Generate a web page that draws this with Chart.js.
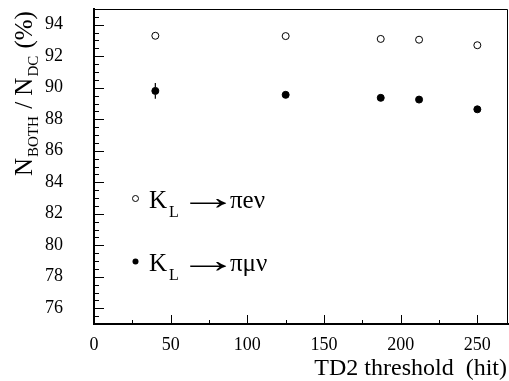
<!DOCTYPE html>
<html>
<head>
<meta charset="utf-8">
<script src="https://cdn.jsdelivr.net/npm/chart.js@4"></script>
<style>
  html, body { margin: 0; padding: 0; background: #fff; }
  #wrap { width: 509px; height: 381px; position: relative; }
</style>
</head>
<body>
<div id="wrap"><canvas id="chart"></canvas></div>
<script>
// TD2 threshold (hit)
const thresholds = [40, 125, 187, 212, 250];
// K_L -> pi e nu (open circles)
const effPiENu = [93.3, 93.28, 93.1, 93.05, 92.7];
const errPiENu = [0.2, 0.2, 0.2, 0.2, 0.2];
// K_L -> pi mu nu (filled circles)
const effPiMuNu = [89.8, 89.55, 89.36, 89.25, 88.63];
const errPiMuNu = [0.5, 0.2, 0.2, 0.2, 0.2];

const xTicks = [0, 50, 100, 150, 200, 250];
const yTicks = [76, 78, 80, 82, 84, 86, 88, 90, 92, 94];

const SERIF = '"Liberation Serif", "Times New Roman", serif';

function pontos(xs, ys, es) {
  return xs.map((x, i) => ({ x: x, y: ys[i], err: es[i] }));
}

// sem padding automatico das escalas
function zeraPadding(s) {
  s.paddingTop = 0; s.paddingBottom = 0; s.paddingLeft = 0; s.paddingRight = 0;
}

// desenha moldura, ticks internos, barras de erro, legenda e titulos
const extras = {
  id: 'extras',
  afterDraw(chart) {
    const ctx = chart.ctx;
    const a = chart.chartArea;
    const xs = chart.scales.x, ys = chart.scales.y;
    ctx.save();
    ctx.strokeStyle = '#000';

    // top and right frame
    ctx.lineWidth = 1;
    ctx.beginPath();
    ctx.moveTo(a.left, a.top + 0.5);
    ctx.lineTo(a.right - 0.5, a.top + 0.5);
    ctx.lineTo(a.right - 0.5, a.bottom);
    ctx.stroke();

    // inward ticks
    ctx.beginPath();
    for (let v = 0; v <= 270; v += 25) {
      const px = Math.round(xs.getPixelForValue(v)) + 0.5;
      const len = v % 50 === 0 ? 9 : 4;
      ctx.moveTo(px, a.bottom);
      ctx.lineTo(px, a.bottom - len);
    }
    for (let v = 75.5; v < 95; v += 0.5) {
      const py = Math.round(ys.getPixelForValue(v)) + 0.5;
      const len = v % 2 === 0 ? 10 : 5;
      ctx.moveTo(a.left, py);
      ctx.lineTo(a.left + len, py);
    }
    ctx.stroke();

    // error bars outside the markers
    const r = 3.5;
    ctx.lineWidth = 1.2;
    ctx.beginPath();
    chart.data.datasets.forEach(ds => {
      ds.data.forEach(p => {
        const px = xs.getPixelForValue(p.x);
        const py = ys.getPixelForValue(p.y);
        const hi = ys.getPixelForValue(p.y + p.err);
        const lo = ys.getPixelForValue(p.y - p.err);
        if (py - hi > r) { ctx.moveTo(px, hi); ctx.lineTo(px, py - r); }
        if (lo - py > r) { ctx.moveTo(px, py + r); ctx.lineTo(px, lo); }
      });
    });
    ctx.stroke();

    // legenda dentro do grafico
    ctx.fillStyle = '#000';
    ctx.lineWidth = 1;
    ctx.beginPath();
    ctx.arc(135.5, 198.5, 3, 0, Math.PI * 2);
    ctx.stroke();
    ctx.beginPath();
    ctx.arc(135.5, 261.5, 3, 0, Math.PI * 2);
    ctx.fill();

    function linhaLegenda(base, resto) {
      ctx.textAlign = 'left';
      ctx.textBaseline = 'alphabetic';
      ctx.font = '25px ' + SERIF;
      ctx.fillText('K', 149, base);
      ctx.font = '16px ' + SERIF;
      ctx.fillText('L', 169, base + 9);
      // seta: fonte maior, ajustada para ~37px de largura
      ctx.font = '36px ' + SERIF;
      const m = ctx.measureText('\u2192');
      const ink = m.actualBoundingBoxLeft + m.actualBoundingBoxRight;
      ctx.save();
      ctx.translate(190, base + 1);
      ctx.scale(37 / ink, 1);
      ctx.fillText('\u2192', m.actualBoundingBoxLeft, 0);
      ctx.restore();
      ctx.font = '25px ' + SERIF;
      ctx.fillText(resto, 230, base);
    }
    linhaLegenda(208, '\u03c0e\u03bd');
    linhaLegenda(271, '\u03c0\u03bc\u03bd');

    // x title
    ctx.font = '24px ' + SERIF;
    ctx.textAlign = 'right';
    ctx.fillText('TD2 threshold  (hit)', 507, 375);

    // y title with subscripts
    ctx.save();
    ctx.translate(32, 176);
    ctx.rotate(-Math.PI / 2);
    ctx.textAlign = 'left';
    const partes = [['N', 0], ['BOTH', 1], [' / N', 0], ['DC', 1], [' (%)', 0]];
    let pos = 0;
    partes.forEach(([t, sub]) => {
      ctx.font = (sub ? '15px ' : '25px ') + SERIF;
      ctx.fillText(t, pos + (sub ? 1 : 0), sub ? 6 : 0);
      pos += ctx.measureText(t).width + (sub ? 2 : 0);
    });
    ctx.restore();

    ctx.restore();
  }
};

new Chart(document.getElementById('chart'), {
  type: 'scatter',
  data: {
    datasets: [
      {
        label: 'K_L \u2192 \u03c0e\u03bd',
        data: pontos(thresholds, effPiENu, errPiENu),
        pointStyle: 'circle',
        radius: 3.5,
        borderWidth: 1,
        borderColor: '#000',
        backgroundColor: '#fff'
      },
      {
        label: 'K_L \u2192 \u03c0\u03bc\u03bd',
        data: pontos(thresholds, effPiMuNu, errPiMuNu),
        pointStyle: 'circle',
        radius: 3.5,
        borderWidth: 1,
        borderColor: '#000',
        backgroundColor: '#000'
      }
    ]
  },
  options: {
    responsive: true,
    maintainAspectRatio: false,
    animation: false,
    events: [],
    layout: { autoPadding: false, padding: { top: 9, right: 1, left: 0, bottom: 0 } },
    plugins: { legend: { display: false }, tooltip: { enabled: false } },
    scales: {
      x: {
        type: 'linear',
        min: 0,
        max: 270,
        afterBuildTicks: s => { s.ticks = xTicks.map(v => ({ value: v })); },
        afterFit: s => { s.height = 57; zeraPadding(s); },
        grid: { display: false },
        border: { display: true, color: '#000', width: 2 },
        ticks: {
          color: '#000',
          padding: 2,
          maxRotation: 0,
          font: { family: SERIF, size: 18 }
        }
      },
      y: {
        type: 'linear',
        min: 75,
        max: 95,
        afterBuildTicks: s => { s.ticks = yTicks.map(v => ({ value: v })); },
        afterFit: s => { s.width = 94; zeraPadding(s); },
        grid: { display: false },
        border: { display: true, color: '#000', width: 2 },
        ticks: {
          color: '#000',
          padding: 23,
          font: { family: SERIF, size: 18 }
        }
      }
    }
  },
  plugins: [extras]
});
</script>
</body>
</html>
